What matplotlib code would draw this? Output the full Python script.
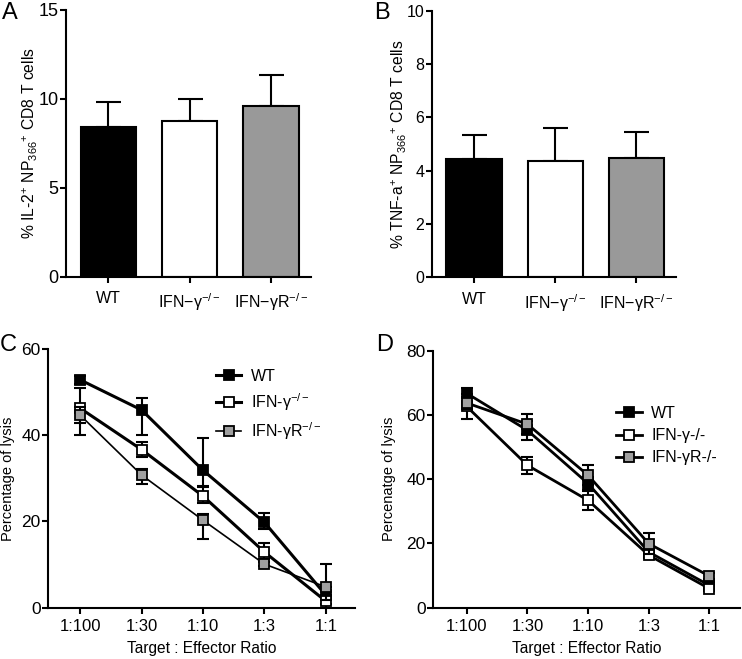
import numpy as np
import matplotlib
matplotlib.use("Agg")
import matplotlib.pyplot as plt

plt.rcParams['font.family'] = ['Liberation Sans', 'DejaVu Sans']
plt.rcParams['mathtext.fontset'] = 'custom'
plt.rcParams['mathtext.rm'] = 'Liberation Sans'
plt.rcParams['mathtext.it'] = 'Liberation Sans:italic'

# bar panels (A, B)
groups = ['WT', 'IFN\u2212\u03b3$^{\u2212/\u2212}$', 'IFN\u2212\u03b3R$^{\u2212/\u2212}$']
bar_colors = ['black', 'white', '#999999']
il2_mean = [8.41, 8.75, 9.6]
il2_err = [1.4, 1.23, 1.73]
tnf_mean = [4.44, 4.37, 4.49]
tnf_err = [0.9, 1.24, 0.97]

# lysis panels (C, D)
ratios = ['1:100', '1:30', '1:10', '1:3', '1:1']

c_wt = [52.9, 45.9, 31.9, 19.8, 2.9]
c_wt_lo = [1.0, 5.8, 3.6, 1.5, 2.0]
c_wt_hi = [1.0, 2.7, 7.6, 2.2, 2.0]
c_ko = [46.3, 36.7, 25.9, 12.9, 1.5]
c_ko_lo = [3.5, 1.8, 1.7, 1.5, 1.5]
c_ko_hi = [4.6, 1.8, 2.2, 2.0, 1.5]
c_rko = [44.7, 30.8, 20.3, 10.1, 4.8]
c_rko_lo = [4.6, 2.1, 4.3, 0.5, 3.0]
c_rko_hi = [2.0, 1.5, 1.5, 0.5, 5.4]

d_wt = [66.7, 55.2, 38.6, 17.3, 6.9]
d_wt_err = [1.5, 2.9, 2.0, 1.5, 1.0]
d_ko = [62.6, 44.3, 33.4, 16.3, 5.9]
d_ko_err = [3.8, 2.6, 2.9, 1.0, 0.8]
d_rko = [63.7, 57.1, 41.2, 19.9, 9.8]
d_rko_err = [2.0, 3.1, 3.1, 3.3, 1.0]

fig = plt.figure(figsize=(7.42, 6.59), dpi=100)


def style_axes(ax, ysize):
    for s in ['top', 'right']:
        ax.spines[s].set_visible(False)
    for s in ['left', 'bottom']:
        ax.spines[s].set_linewidth(1.5)
    ax.tick_params(axis='both', width=1.5, length=4.5, direction='out')
    ax.tick_params(axis='y', labelsize=ysize, pad=1)


def bar_panel(rect, means, errs, ylim, yticks, ylabel, ysize, labx):
    ax = fig.add_axes(rect)
    x = np.arange(len(groups))
    ax.bar(x, means, width=0.68, color=bar_colors, edgecolor='black', linewidth=1.5, zorder=2)
    ax.errorbar(x, means, yerr=[np.zeros(len(errs)), errs], fmt='none', ecolor='black',
                elinewidth=1.5, capsize=9, capthick=1.5, zorder=1)
    ax.set_xlim(-0.52, 2.49)
    ax.set_ylim(*ylim)
    ax.set_yticks(yticks)
    ax.set_xticks(x)
    ax.set_xticklabels(groups, fontsize=11.5)
    ax.tick_params(axis='x', pad=6)
    style_axes(ax, ysize)
    ax.set_ylabel(ylabel, fontsize=11.3)
    ax.yaxis.set_label_coords(labx, 0.5)
    return ax


bar_panel([0.089, 0.580, 0.330, 0.405], il2_mean, il2_err, (0, 15), [0, 5, 10, 15],
          '% IL-2$^{+}$ NP$_{366}$$^{+}$ CD8 T cells', 13, -0.105)
bar_panel([0.582, 0.579, 0.329, 0.405], tnf_mean, tnf_err, (0, 10), [0, 2, 4, 6, 8, 10],
          '% TNF-a$^{+}$ NP$_{366}$$^{+}$ CD8 T cells', 11.5, -0.094)


def line_panel(rect, series, ylim, yticks, ylabel, labx, xlim, leg_anchor):
    ax = fig.add_axes(rect)
    x = np.arange(len(ratios))
    handles = []
    for vals, err, face, lw, lab in series:
        ax.errorbar(x, vals, yerr=err, fmt='none', ecolor='black', elinewidth=1.5,
                    capsize=4, capthick=1.5)
        h, = ax.plot(x, vals, color='black', lw=lw, marker='s', ms=7.5,
                     mfc=face, mec='black', mew=1.3, label=lab)
        handles.append(h)
    ax.set_xlim(*xlim)
    ax.set_ylim(*ylim)
    ax.set_yticks(yticks)
    ax.set_xticks(x)
    ax.set_xticklabels(ratios, fontsize=12)
    ax.tick_params(axis='x', pad=4)
    style_axes(ax, 12.5)
    ax.set_ylabel(ylabel, fontsize=10.5)
    ax.yaxis.set_label_coords(labx, 0.5)
    ax.set_xlabel('Target : Effector Ratio', fontsize=11.2, labelpad=5)
    ax.legend(handles=handles, loc='upper left', bbox_to_anchor=leg_anchor, frameon=False,
              fontsize=11.5, handlelength=1.6, handletextpad=0.6, labelspacing=0.45)
    return ax


line_panel([0.065, 0.078, 0.413, 0.392],
           [(c_wt, [c_wt_lo, c_wt_hi], 'black', 2.2, 'WT'),
            (c_ko, [c_ko_lo, c_ko_hi], 'white', 2.2, 'IFN-\u03b3$^{-/-}$'),
            (c_rko, [c_rko_lo, c_rko_hi], '#a0a0a0', 1.2, 'IFN-\u03b3R$^{-/-}$')],
           (0, 60), [0, 20, 40, 60], 'Percentage of lysis', -0.107, (-0.52, 4.47), (0.50, 0.98))

line_panel([0.584, 0.078, 0.413, 0.390],
           [(d_wt, d_wt_err, 'black', 2.0, 'WT'),
            (d_ko, d_ko_err, 'white', 2.0, 'IFN-\u03b3-/-'),
            (d_rko, d_rko_err, '#a0a0a0', 2.0, 'IFN-\u03b3R-/-')],
           (0, 80), [0, 20, 40, 60, 80], 'Percenatge of lysis', -0.123, (-0.55, 4.5), (0.55, 0.84))

for txt, px, py in [('A', 2, 19), ('B', 374, 19), ('C', 0, 351), ('D', 376, 351)]:
    fig.text(px / 742, 1 - py / 659, txt, fontsize=17, ha='left', va='baseline')

fig.savefig('out.png', dpi=100)
